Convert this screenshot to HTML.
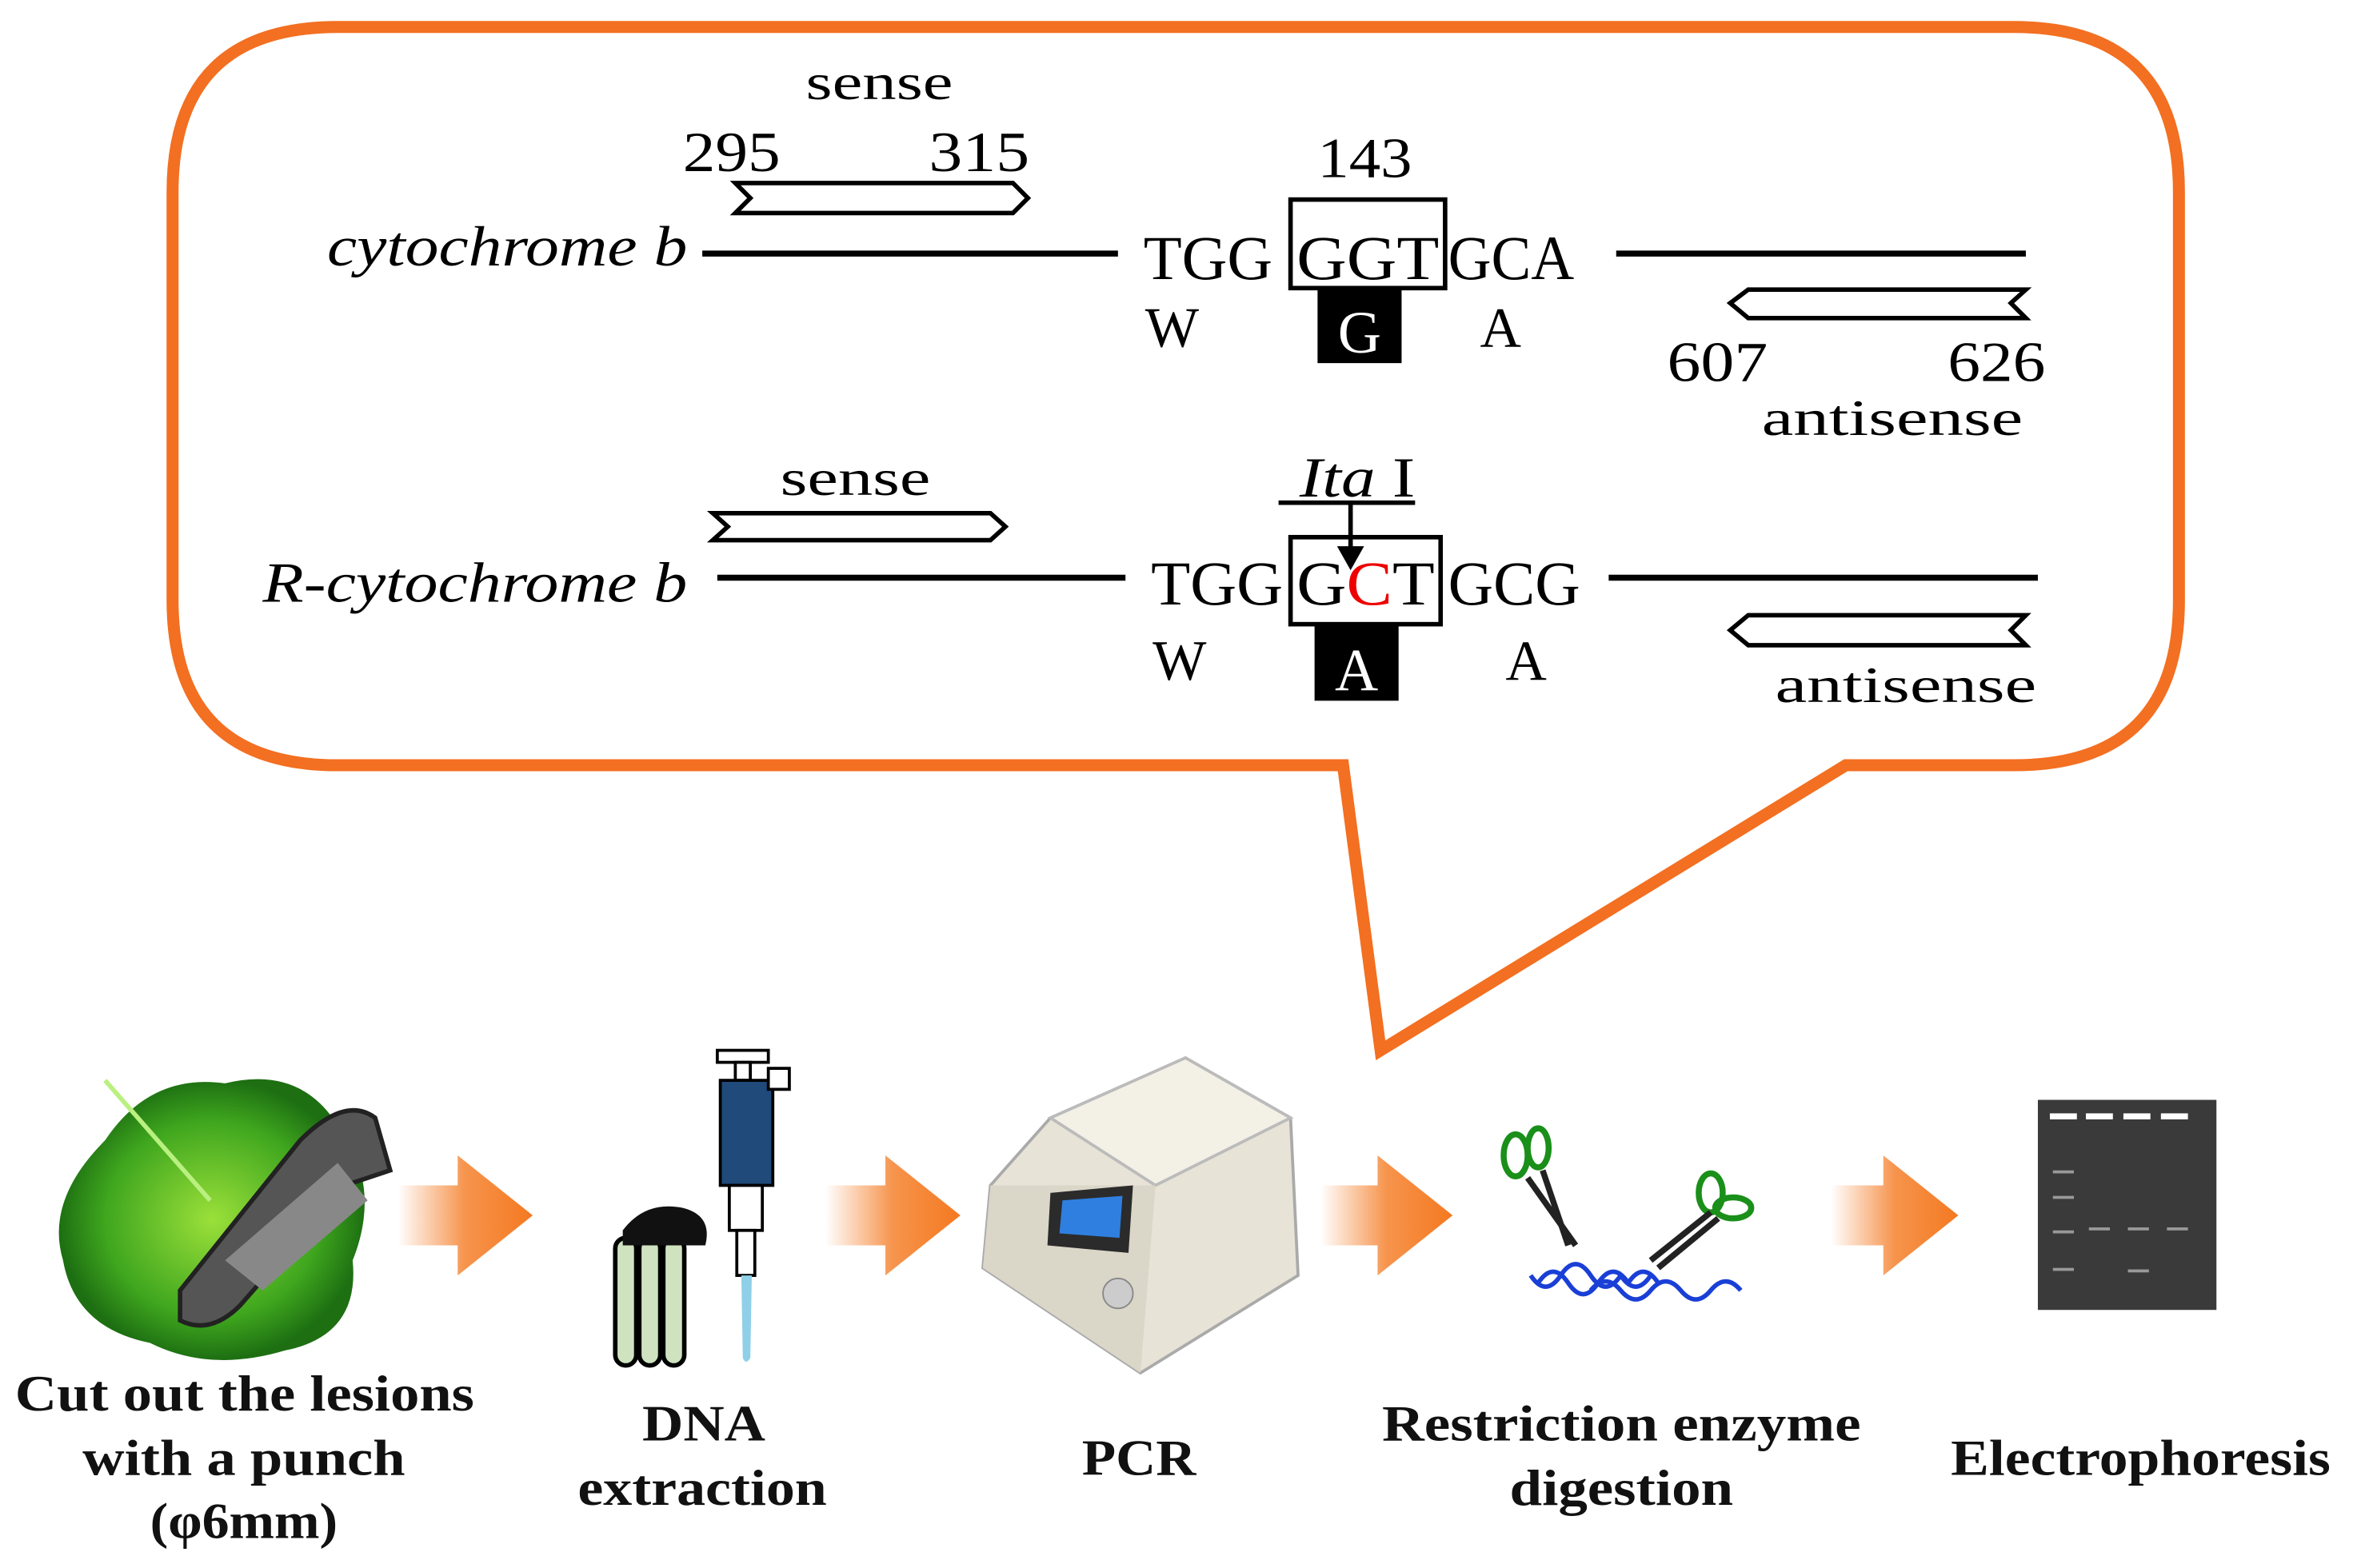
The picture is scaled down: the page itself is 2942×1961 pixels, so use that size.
<!DOCTYPE html>
<html><head><meta charset="utf-8"><style>
html,body{margin:0;padding:0;background:#fff;}
svg{display:block;}
text{font-family:"Liberation Serif",serif;}
</style></head><body>
<svg width="2942" height="1961" viewBox="0 0 1568 1045" preserveAspectRatio="none" xmlns="http://www.w3.org/2000/svg">
<defs>
<linearGradient id="og" x1="0" x2="1" y1="0" y2="0">
<stop offset="0" stop-color="#f47920" stop-opacity="0"/>
<stop offset="0.5" stop-color="#f47920" stop-opacity="0.8"/>
<stop offset="1" stop-color="#f47920"/>
</linearGradient>
<radialGradient id="leaf" cx="0.5" cy="0.5" r="0.5">
<stop offset="0" stop-color="#9be03a"/><stop offset="0.7" stop-color="#3fa61e"/><stop offset="1" stop-color="#1d6f12"/>
</radialGradient>
</defs>
<path d="M225,18 H1342 Q1452,18 1452,128 V400 Q1452,510 1342,510 H1230 L920,700 L895,510 H225 Q115,510 115,400 V128 Q115,18 225,18 Z" fill="#fff" stroke="#f36f21" stroke-width="8" stroke-linejoin="miter"/>

<!-- row 1 -->
<text x="537" y="66" font-size="34" textLength="98" lengthAdjust="spacingAndGlyphs">sense</text>
<text x="455" y="114" font-size="38" textLength="65" lengthAdjust="spacingAndGlyphs">295</text>
<text x="619" y="114" font-size="38" textLength="67" lengthAdjust="spacingAndGlyphs">315</text>
<polygon points="490,122 675,122 685,132 675,142 490,142 500,132" fill="#fff" stroke="#000" stroke-width="3"/>
<text x="218" y="177" font-size="38" font-style="italic" textLength="240" lengthAdjust="spacingAndGlyphs">cytochrome b</text>
<line x1="468" y1="169" x2="745" y2="169" stroke="#000" stroke-width="4"/>
<text x="762" y="186" font-size="42" textLength="86" lengthAdjust="spacingAndGlyphs">TGG</text>
<rect x="860" y="133" width="103" height="59" fill="none" stroke="#000" stroke-width="3"/>
<text x="864" y="186" font-size="42" textLength="95" lengthAdjust="spacingAndGlyphs">GGT</text>
<text x="965" y="186" font-size="42" textLength="84" lengthAdjust="spacingAndGlyphs">GCA</text>
<text x="878" y="118" font-size="38" textLength="63" lengthAdjust="spacingAndGlyphs">143</text>
<text x="781" y="231" font-size="38" text-anchor="middle">W</text>
<rect x="878" y="192" width="56" height="50" fill="#000"/>
<text x="906" y="235" font-size="40" fill="#fff" text-anchor="middle">G</text>
<text x="1000" y="231" font-size="38" text-anchor="middle">A</text>
<line x1="1077" y1="169" x2="1350" y2="169" stroke="#000" stroke-width="4"/>
<polygon points="1350,193 1165,193 1153,202 1165,212 1350,212 1340,202" fill="#fff" stroke="#000" stroke-width="3"/>
<text x="1111" y="254" font-size="38" textLength="67" lengthAdjust="spacingAndGlyphs">607</text>
<text x="1298" y="254" font-size="38" textLength="65" lengthAdjust="spacingAndGlyphs">626</text>
<text x="1174" y="290" font-size="34" textLength="174" lengthAdjust="spacingAndGlyphs">antisense</text>

<!-- row 2 -->
<text x="520" y="330" font-size="34" textLength="100" lengthAdjust="spacingAndGlyphs">sense</text>
<polygon points="475,342 660,342 670,351 660,360 475,360 485,351" fill="#fff" stroke="#000" stroke-width="3"/>
<text x="175" y="401" font-size="38" font-style="italic" textLength="283" lengthAdjust="spacingAndGlyphs">R-cytochrome b</text>
<line x1="478" y1="385" x2="750" y2="385" stroke="#000" stroke-width="4"/>
<text x="767" y="403" font-size="42" textLength="88" lengthAdjust="spacingAndGlyphs">TGG</text>
<rect x="860" y="358" width="100" height="58" fill="none" stroke="#000" stroke-width="3"/>
<text x="864" y="403" font-size="42" textLength="92" lengthAdjust="spacingAndGlyphs">G<tspan fill="#e00">C</tspan>T</text>
<text x="965" y="403" font-size="42" textLength="88" lengthAdjust="spacingAndGlyphs">GCG</text>
<text x="866" y="331" font-size="38" textLength="77" lengthAdjust="spacingAndGlyphs"><tspan font-style="italic">Ita</tspan> I</text>
<line x1="852" y1="335" x2="943" y2="335" stroke="#000" stroke-width="3"/>
<line x1="900" y1="335" x2="900" y2="366" stroke="#000" stroke-width="3"/>
<polygon points="891,364 909,364 900,380" fill="#000"/>
<text x="786" y="453" font-size="38" text-anchor="middle">W</text>
<rect x="876" y="416" width="56" height="51" fill="#000"/>
<text x="904" y="460" font-size="40" fill="#fff" text-anchor="middle">A</text>
<text x="1017" y="453" font-size="38" text-anchor="middle">A</text>
<line x1="1072" y1="385" x2="1358" y2="385" stroke="#000" stroke-width="4"/>
<polygon points="1350,410 1165,410 1153,420 1165,430 1350,430 1340,420" fill="#fff" stroke="#000" stroke-width="3"/>
<text x="1183" y="468" font-size="34" textLength="174" lengthAdjust="spacingAndGlyphs">antisense</text>

<g fill="url(#og)">
<polygon points="265,790 305,790 305,770 355,810 305,850 305,830 265,830"/>
<polygon points="550,790 590,790 590,770 640,810 590,850 590,830 550,830"/>
<polygon points="880,790 918,790 918,770 968,810 918,850 918,830 880,830"/>
<polygon points="1220,790 1255,790 1255,770 1305,810 1255,850 1255,830 1220,830"/>
</g>

<path d="M70,760 Q100,715 150,722 Q200,710 225,750 Q255,790 235,840 Q240,890 190,900 Q140,915 100,895 Q50,885 42,840 Q30,800 70,760 Z" fill="url(#leaf)"/>
<line x1="70" y1="720" x2="140" y2="800" stroke="#b9f080" stroke-width="3"/>
<path d="M120,860 L200,760 Q230,730 250,745 L260,780 L230,790 L160,870 Q140,890 120,880 Z" fill="#555" stroke="#222" stroke-width="3"/>
<path d="M150,840 L225,775 L245,800 L175,860 Z" fill="#888"/>

<g stroke="#000" stroke-width="3">
<rect x="410" y="825" width="14" height="85" rx="7" fill="#cfe3c0"/>
<rect x="426" y="825" width="14" height="85" rx="7" fill="#cfe3c0"/>
<rect x="442" y="825" width="14" height="85" rx="7" fill="#cfe3c0"/>
</g>
<path d="M415,820 Q430,800 455,805 Q475,810 470,830 L415,830 Z" fill="#111"/>
<rect x="478" y="700" width="34" height="8" fill="#fff" stroke="#000" stroke-width="2"/>
<rect x="490" y="708" width="10" height="12" fill="#fff" stroke="#000" stroke-width="2"/>
<rect x="480" y="720" width="35" height="70" fill="#1f4a7a" stroke="#000" stroke-width="2"/>
<rect x="512" y="712" width="14" height="14" fill="#fff" stroke="#000" stroke-width="2"/>
<rect x="486" y="790" width="22" height="30" fill="#fff" stroke="#000" stroke-width="2"/>
<rect x="491" y="820" width="12" height="30" fill="#fff" stroke="#000" stroke-width="2"/>
<path d="M494,850 L501,850 L500,905 Q497,910 495,905 Z" fill="#8fd0e8"/>

<path d="M700,745 L790,705 L860,745 L865,850 L760,915 L655,845 L660,790 Z" fill="#e7e3d6" stroke="#aaa" stroke-width="2"/>
<path d="M700,745 L790,705 L860,745 L770,790 Z" fill="#f3f0e6" stroke="#bbb" stroke-width="2"/>
<path d="M660,790 L770,790 L760,915 L655,845 Z" fill="#dad6c8"/>
<polygon points="700,795 755,790 752,835 698,830" fill="#2b2b2b"/>
<polygon points="708,800 748,797 746,825 706,822" fill="#2f7fe0"/>
<circle cx="745" cy="862" r="10" fill="#ccc" stroke="#888"/>

<g stroke="#1a8f1a" stroke-width="4" fill="none">
<ellipse cx="1010" cy="770" rx="8" ry="14"/><ellipse cx="1025" cy="765" rx="7" ry="13"/>
<ellipse cx="1140" cy="795" rx="8" ry="13"/><ellipse cx="1155" cy="805" rx="12" ry="7"/>
</g>
<g stroke="#222" stroke-width="4">
<line x1="1018" y1="785" x2="1050" y2="830"/><line x1="1028" y1="780" x2="1045" y2="830"/>
<line x1="1140" y1="808" x2="1100" y2="840"/><line x1="1145" y1="812" x2="1105" y2="845"/>
</g>
<path d="M1025,855 q10,-15 20,0 q10,15 20,0 q10,-15 20,0 q10,-15 20,0 M1020,850 q10,15 20,0 q10,-15 20,0 q10,15 20,0 q10,15 20,0 M1060,860 q10,-12 20,0 q10,12 20,0 q10,-12 20,0 q10,12 20,0 q10,-12 20,0" stroke="#1a3fd6" stroke-width="3" fill="none"/>

<rect x="1358" y="733" width="119" height="140" fill="#3a3a3a"/>
<g fill="#fff"><rect x="1366" y="742" width="18" height="4"/><rect x="1390" y="742" width="18" height="4"/><rect x="1415" y="742" width="18" height="4"/><rect x="1440" y="742" width="18" height="4"/></g>
<g fill="#999"><rect x="1368" y="780" width="14" height="2"/><rect x="1368" y="797" width="14" height="2"/><rect x="1368" y="820" width="14" height="2"/><rect x="1392" y="818" width="14" height="2"/><rect x="1418" y="818" width="14" height="2"/><rect x="1444" y="818" width="14" height="2"/><rect x="1368" y="845" width="14" height="2"/><rect x="1418" y="846" width="14" height="2"/></g>

<g font-size="34" font-weight="bold" fill="#111" lengthAdjust="spacingAndGlyphs">
<text x="10" y="940" textLength="306" lengthAdjust="spacingAndGlyphs">Cut out the lesions</text>
<text x="55" y="983" textLength="215" lengthAdjust="spacingAndGlyphs">with a punch</text>
<text x="100" y="1025" textLength="125" lengthAdjust="spacingAndGlyphs">(φ6mm)</text>
<text x="428" y="960" textLength="82" lengthAdjust="spacingAndGlyphs">DNA</text>
<text x="385" y="1003" textLength="166" lengthAdjust="spacingAndGlyphs">extraction</text>
<text x="721" y="983" textLength="76" lengthAdjust="spacingAndGlyphs">PCR</text>
<text x="921" y="960" textLength="319" lengthAdjust="spacingAndGlyphs">Restriction enzyme</text>
<text x="1006" y="1003" textLength="149" lengthAdjust="spacingAndGlyphs">digestion</text>
<text x="1300" y="983" textLength="253" lengthAdjust="spacingAndGlyphs">Electrophoresis</text>
</g>
</svg>
</body></html>
